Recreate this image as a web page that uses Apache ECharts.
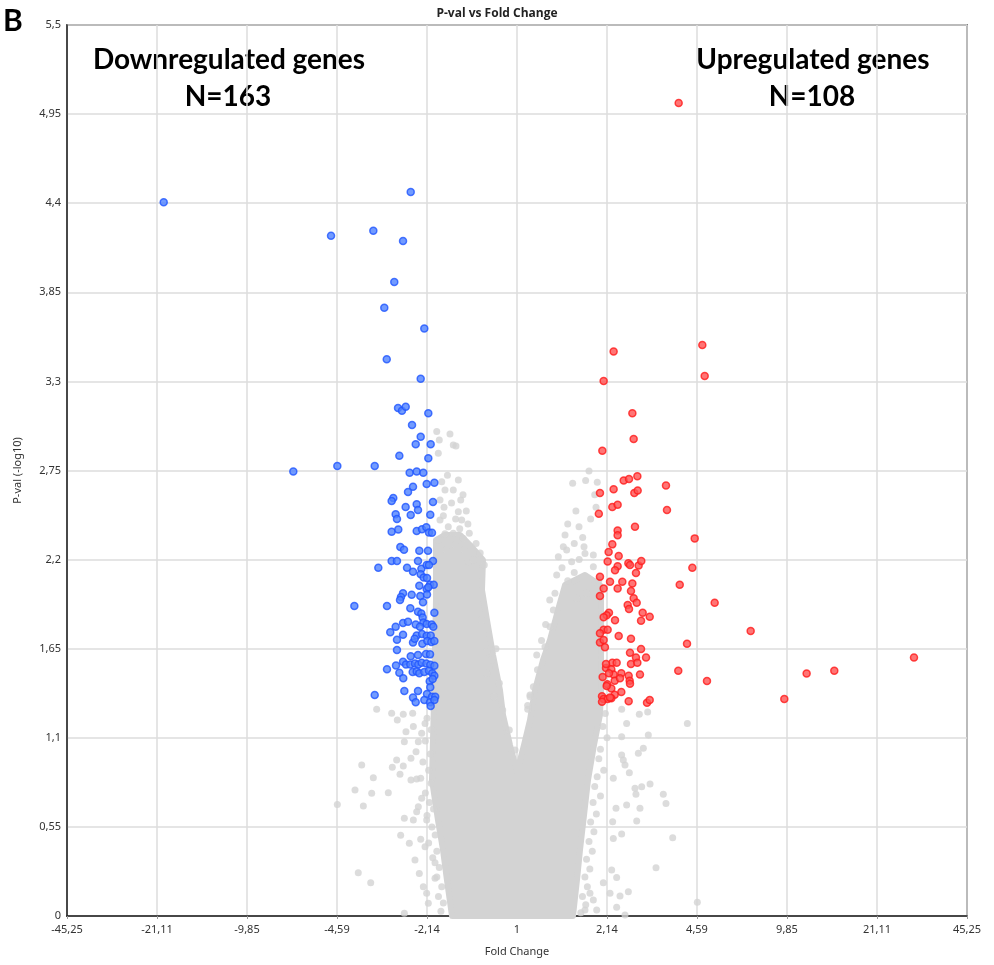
<!DOCTYPE html>
<html>
<head>
<meta charset="utf-8">
<script src="https://cdn.jsdelivr.net/npm/echarts@6/dist/echarts.min.js"></script>
<style>
html,body{margin:0;padding:0;background:#fff;}
#chart{width:994px;height:965px;}
</style>
</head>
<body>
<div id="chart"></div>
<script>
// x values are log2(fold change), y values are -log10(p-value)
const xTickLabels = ['-45,25','-21,11','-9,85','-4,59','-2,14','1','2,14','4,59','9,85','21,11','45,25'];
const yTickLabels = ['0','0,55','1,1','1,65','2,2','2,75','3,3','3,85','4,4','4,95','5,5'];

// Downregulated (blue)
const downX = [-4.318,-1.299,-2.273,-1.756,-1.393,-1.500,-1.622,-1.133,-1.592,-1.177,-1.454,-1.406,-1.360,-1.084,-1.283,-1.177,-1.238,-1.055,-1.438,-1.084,-2.734,-2.196,-1.739,-1.312,-1.226,-1.145,-1.104,-1.010,-1.271,
-1.332,-1.512,-1.532,-1.027,-1.361,-1.226,-1.210,-1.483,-1.467,-1.299,-1.060,-1.532,-1.451,-1.226,-1.161,-1.108,-1.076,-1.039,-1.426,-1.381,-1.194,-1.088,-1.532,-1.467,-1.210,-1.027,-1.695,-1.344,-1.271,-1.169,-1.104,-1.076,-1.177,-1.140,-1.100,-1.194,-1.063,-1.018,-1.104,-1.084,-1.393,-1.418,-1.430,-1.287,-1.182,-1.100,-1.149,-1.988,-1.589,-1.304,-1.210,-1.169,-1.010,-1.153,-1.145,-1.104,-1.043,-1.023,-1.393,-1.332,-1.238,-1.186,-1.483,-1.549,-1.393,-1.226,-1.161,-1.104,-1.055,-1.467,-1.271,-1.250,-1.157,-1.096,-1.047,-1.010,-1.467,-1.299,-1.210,-1.112,-1.063,-1.393,-1.357,-1.304,-1.247,-1.206,-1.165,-1.108,-1.060,-1.010,-1.589,-1.479,-1.438,-1.390,-1.275,-1.226,-1.194,-1.133,-1.076,-1.035,-1.010,-1.067,-1.031,-1.060,-1.739,-1.377,-1.210,-1.271,-1.238,-1.100,-1.039,-1.000,-1.133,-1.063,-1.010,-1.055];
const downY = [4.406,4.469,4.199,4.230,4.167,3.914,3.755,3.626,3.436,3.317,3.136,3.119,3.144,3.103,3.031,2.959,2.912,2.912,2.841,2.825,2.744,2.778,2.778,2.736,2.744,2.736,2.667,2.675,2.650,
2.617,2.580,2.562,2.556,2.525,2.541,2.506,2.480,2.451,2.475,2.477,2.372,2.386,2.377,2.387,2.399,2.368,2.366,2.278,2.261,2.255,2.255,2.191,2.191,2.191,2.191,2.150,2.150,2.125,2.144,2.167,2.167,2.109,2.090,2.086,2.039,2.045,2.045,2.019,2.029,1.992,1.969,1.951,1.983,1.975,1.985,1.936,1.914,1.914,1.899,1.878,1.868,1.872,1.842,1.811,1.802,1.800,1.786,1.809,1.817,1.800,1.786,1.786,1.751,1.736,1.732,1.741,1.730,1.732,1.705,1.689,1.712,1.681,1.698,1.691,1.698,1.642,1.603,1.611,1.617,1.615,1.570,1.553,1.553,1.559,1.553,1.563,1.559,1.551,1.545,1.523,1.547,1.502,1.467,1.506,1.510,1.498,1.506,1.514,1.498,1.483,1.449,1.463,1.412,1.364,1.389,1.389,1.348,1.319,1.370,1.354,1.354,1.333,1.319,1.333,1.296];

// Upregulated (red)
const upX = [1.976,1.181,2.265,1.059,2.294,1.410,1.426,1.043,1.304,1.369,1.471,1.821,1.181,1.014,1.434,1.475,1.165,1.230,1.833,1.000,1.442,1.230,1.230,1.165,2.172,1.120,1.243,1.108,1.361,1.381,1.487,1.519,1.230,1.198,2.143,1.454,1.014,1.137,1.287,1.410,1.059,1.230,1.989,1.393,1.014,1.426,1.463,2.416,1.353,1.369,1.124,1.096,1.059,1.536,1.516,1.622,1.198,2.856,1.059,1.108,1.014,1.243,1.393,1.014,1.059,1.075,2.078,1.516,1.381,1.454,1.577,4.852,1.165,1.218,1.393,1.471,1.088,1.153,1.971,3.540,3.878,1.181,1.275,1.503,1.047,1.194,1.259,1.365,1.377,1.381,2.322,1.104,1.153,1.275,1.194,1.039,1.059,1.108,1.153,1.365,1.589,1.622,3.267,1.039,1.088,1.124,1.096,1.137];
const upY = [5.019,3.484,3.525,3.302,3.333,3.103,2.944,2.872,2.689,2.698,2.714,2.658,2.634,2.611,2.611,2.627,2.525,2.539,2.506,2.483,2.403,2.380,2.350,2.294,2.331,2.247,2.222,2.189,2.177,2.167,2.164,2.191,2.159,2.134,2.150,2.117,2.094,2.064,2.064,2.053,2.022,2.022,2.045,2.006,1.975,1.961,1.934,1.934,1.920,1.895,1.872,1.856,1.844,1.872,1.823,1.847,1.825,1.759,1.767,1.767,1.745,1.728,1.712,1.689,1.704,1.659,1.681,1.648,1.625,1.595,1.595,1.595,1.564,1.564,1.556,1.564,1.531,1.523,1.514,1.497,1.514,1.491,1.498,1.491,1.475,1.452,1.467,1.483,1.452,1.433,1.450,1.430,1.405,1.383,1.366,1.356,1.340,1.340,1.344,1.325,1.317,1.333,1.340,1.322,1.556,1.498,1.420,1.348];

// Not significant (grey) - individually visible genes
const greyX = [-0.981,-0.819,-0.950,-0.779,-0.746,-0.962,-0.717,-0.880,-0.779,-0.688,-0.941,-0.892,-0.717,-0.676,-0.840,-0.779,-0.583,-0.962,-0.860,-0.656,-0.941,-0.400,-0.595,-0.534,-0.257,-0.309,-0.371,-0.216,-0.281,-0.175,-0.371,-0.432,
-0.85,-0.92,-0.66,-0.80,-0.62,-0.90,-0.75,-0.60,-0.70,-0.88,-0.50,-0.75,-0.64,-0.45,
0.880,0.839,0.981,0.680,0.966,0.758,0.803,0.587,0.566,0.607,0.819,0.933,0.831,0.668,0.505,0.485,0.933,1.000,0.444,0.403,0.241,0.159,0.200,0.342,0.464,0.729,0.851,
0.95,0.72,0.90,0.62,0.70,0.76,0.55,0.70,0.62,0.40,0.35,0.30,0.25,0.13,
-0.094,0.131,0.159,-0.024,
-1.715,-1.532,-1.463,-1.390,-1.275,-1.357,-1.377,-1.206,-1.267,-1.124,-1.165,-1.234,-1.296,-1.471,-1.898,-1.524,-1.430,-1.390,-1.756,-1.296,-1.226,-1.177,-1.980,-1.776,-1.573,-2.196,-1.878,-1.206,-1.165,-1.226,-1.377,-1.267,-1.104,-1.422,-1.316,-1.177,-1.124,-1.247,-1.940,-1.788,-1.194,-1.145,-1.002,-1.002,-1.104,-1.084,-1.377,
1.279,1.340,1.495,1.597,2.082,1.605,1.279,1.544,1.483,1.279,1.299,1.320,1.373,1.177,1.442,1.524,1.626,1.454,1.340,1.210,1.503,1.788,1.821,1.463,1.169,1.279,1.903,1.177,1.699,1.157,1.218,1.055,1.361,1.259,1.137,2.204,1.320,1.218,0.933,0.892,0.974,0.831,
-1.10,-1.05,-1.12,-1.06,-1.15,-1.08,-1.05,-1.12,-1.07,-1.02,-1.10,-1.04,-1.00,-1.08,-0.98,-1.03,-0.95,-0.98,-0.92,-0.96,-0.90,-0.93,
1.08,1.05,1.10,1.02,1.00,1.06,0.98,0.95,1.02,0.93,0.97,0.90,0.94,0.88,0.92,0.85,0.89,0.83,0.86,0.80,0.84,0.78];
const greyY = [2.990,2.975,2.938,2.907,2.901,2.856,2.691,2.630,2.630,2.568,2.568,2.523,2.496,2.444,2.403,2.362,2.362,2.321,2.259,2.331,2.444,2.167,2.187,2.198,1.650,1.580,1.498,1.436,1.354,1.272,1.631,1.827,
2.72,2.68,2.60,2.55,2.50,2.47,2.45,2.42,2.39,2.36,2.30,2.29,2.26,2.24,
2.747,2.689,2.677,2.671,2.523,2.403,2.337,2.352,2.280,2.259,2.280,2.228,2.238,2.187,2.218,2.105,2.156,2.074,1.889,1.786,1.611,1.364,1.415,1.662,1.992,1.961,1.992,
2.60,2.50,2.45,2.42,2.30,2.20,2.15,2.12,2.07,1.95,1.80,1.70,1.52,1.30,
1.148,1.276,1.354,1.025,
1.276,1.251,1.210,1.245,1.251,1.138,1.076,1.076,1.169,1.189,1.128,1.014,0.973,0.963,0.932,0.918,0.875,0.926,0.854,0.840,0.846,0.850,0.778,0.757,0.761,0.689,0.679,0.675,0.727,0.644,0.603,0.593,0.593,0.498,0.449,0.473,0.428,0.346,0.267,0.206,0.263,0.181,0.329,0.233,0.140,0.078,0.017,
1.276,1.189,1.245,1.259,1.189,1.117,1.107,1.035,1.004,0.994,0.963,0.932,0.885,0.850,0.788,0.798,0.815,0.751,0.685,0.665,0.665,0.751,0.695,0.586,0.582,0.506,0.483,0.479,0.298,0.284,0.237,0.206,0.150,0.123,0.140,0.085,0.006,0.054,0.099,0.140,0.037,0.037,
1.22,1.15,1.08,1.00,0.95,0.90,0.82,0.76,0.70,0.66,0.62,0.55,0.50,0.45,0.40,0.36,0.30,0.24,0.18,0.12,0.08,0.03,
1.25,1.17,1.10,1.03,0.97,0.90,0.86,0.80,0.74,0.70,0.63,0.58,0.52,0.46,0.40,0.35,0.29,0.24,0.18,0.12,0.07,0.02];

// Outline of the solid, fully overplotted grey core (thousands of genes)
const coreX = [-0.990,-0.990,-1.002,-1.014,-1.027,-1.039,-0.966,-0.904,-0.856,-0.794,0.684,0.733,0.770,0.819,0.868,0.941,1.014,1.027,1.027,1.027,1.014,0.831,0.587,0.501,0.403,0.318,0.220,0.159,0.086,0.000,-0.086,-0.171,-0.208,-0.293,-0.367,-0.428,-0.416,-0.574,-0.697,-0.880];
const coreY = [2.321,1.951,1.642,1.333,1.086,0.840,0.593,0.407,0.222,0.000,0.000,0.222,0.407,0.623,0.840,1.056,1.241,1.395,1.642,1.951,2.043,2.105,2.043,1.889,1.704,1.580,1.395,1.210,1.056,0.889,1.056,1.241,1.395,1.611,1.827,2.012,2.198,2.290,2.352,2.352];

const zip = (xs, ys) => xs.map((x, i) => [x, ys[i]]);

const chart = echarts.init(document.getElementById('chart'), null, {renderer: 'canvas'});
const labelFont = {fontFamily: 'Noto Sans', fontSize: 11, color: '#333'};

chart.setOption({
  backgroundColor: '#fff',
  animation: false,
  title: {
    text: 'P-val vs Fold Change',
    left: 'center', top: 3,
    textStyle: {fontFamily: 'Open Sans', fontSize: 12, fontWeight: 'bold', color: '#222'}
  },
  grid: {
    left: 67, right: 27, top: 25, bottom: 49,
    show: true, borderColor: '#222', borderWidth: 1.5, backgroundColor: '#fff'
  },
  xAxis: {
    type: 'value', min: -5.5, max: 5.5, interval: 1.1,
    name: 'Fold Change', nameLocation: 'middle', nameGap: 30,
    nameTextStyle: {fontFamily: 'Noto Sans', fontSize: 11, color: '#333'},
    axisLine: {show: true, onZero: false, lineStyle: {color: '#222', width: 1.5}},
    axisTick: {show: true, length: 3, lineStyle: {color: '#999'}},
    axisLabel: Object.assign({margin: 8, formatter: v => xTickLabels[Math.round((v + 5.5) / 1.1)]}, labelFont),
    splitLine: {show: true, lineStyle: {color: '#dcdcdc', width: 1.5}}
  },
  yAxis: {
    type: 'value', min: 0, max: 5.5, interval: 0.55,
    name: 'P-val (-log10)', nameLocation: 'middle', nameGap: 44,
    nameTextStyle: {fontFamily: 'Noto Sans', fontSize: 11, color: '#333'},
    axisLine: {show: true, onZero: false, lineStyle: {color: '#222', width: 1.5}},
    axisTick: {show: false},
    axisLabel: Object.assign({margin: 6, formatter: v => yTickLabels[Math.round(v / 0.55)]}, labelFont),
    splitLine: {show: true, lineStyle: {color: '#dcdcdc', width: 1.5}}
  },
  graphic: [
    {type: 'text', left: 3, top: 6, style: {text: 'B', font: 'bold 30px Lato', fill: '#000'}},
    {type: 'text', x: 229, y: 60, style: {text: 'Downregulated genes', font: 'bold 28px Lato', fill: '#000', textAlign: 'center', textVerticalAlign: 'middle'}},
    {type: 'text', x: 228, y: 97, style: {text: 'N=163', font: 'bold 28px Lato', fill: '#000', textAlign: 'center', textVerticalAlign: 'middle'}},
    {type: 'text', x: 813, y: 60, style: {text: 'Upregulated genes', font: 'bold 28px Lato', fill: '#000', textAlign: 'center', textVerticalAlign: 'middle'}},
    {type: 'text', x: 812, y: 97, style: {text: 'N=108', font: 'bold 28px Lato', fill: '#000', textAlign: 'center', textVerticalAlign: 'middle'}}
  ],
  series: [
    {
      type: 'custom', name: 'core', z: 1, silent: true,
      data: [[0, 0]],
      renderItem: (params, api) => ({
        type: 'polygon',
        shape: {points: coreX.map((x, i) => api.coord([x, coreY[i]]))},
        style: {fill: '#d3d3d3', stroke: '#d3d3d3', lineWidth: 6, lineJoin: 'round'}
      })
    },
    {
      type: 'scatter', name: 'ns', z: 2, symbolSize: 7,
      data: zip(greyX, greyY),
      itemStyle: {color: '#d3d3d3'}
    },
    {
      type: 'scatter', name: 'down', z: 3, symbolSize: 7,
      data: zip(downX, downY),
      itemStyle: {color: '#4f82ff', borderColor: '#1f55ff', borderWidth: 1.5}
    },
    {
      type: 'scatter', name: 'up', z: 3, symbolSize: 7,
      data: zip(upX, upY),
      itemStyle: {color: '#ff5252', borderColor: '#ff1a1a', borderWidth: 1.5}
    }
  ]
});
</script>
</body>
</html>
